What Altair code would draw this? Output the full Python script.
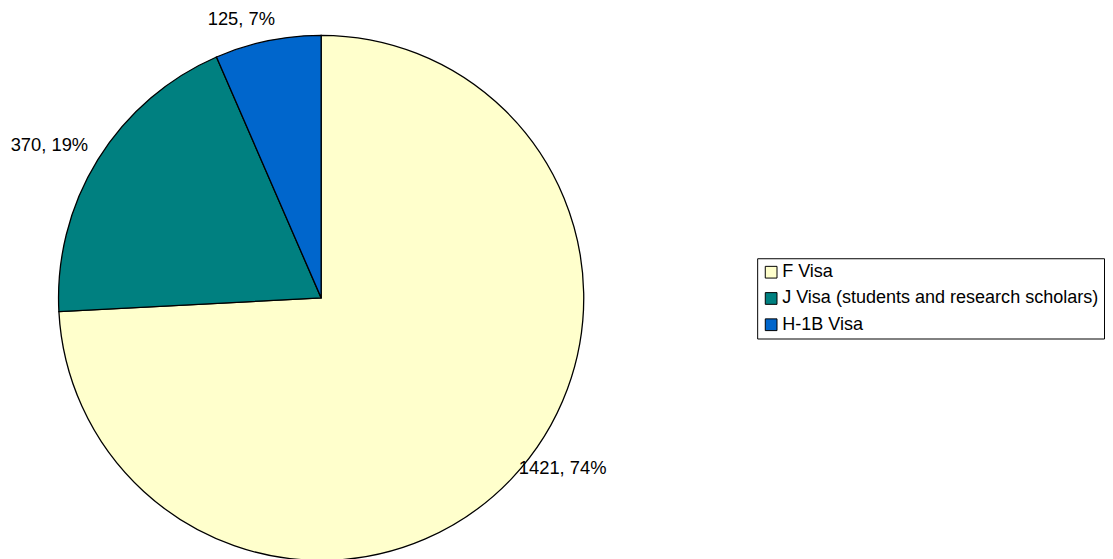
import altair as alt
import pandas as pd

visas = ["F Visa", "J Visa (students and research scholars)", "H-1B Visa"]
counts = [1421, 370, 125]
percents = ["74%", "19%", "7%"]
colors = ["#FFFFCC", "#008080", "#0066CC"]

df = pd.DataFrame({
    "visa": visas,
    "count": counts,
    "pct": percents,
    "order": list(range(len(visas))),
})
df["label"] = [f"{c}, {p}" for c, p in zip(counts, percents)]

CX, CY, R = 311, 285, 265
FONT = "Liberation Sans"
FS = 18.5

base = alt.Chart(df)

pie = base.mark_arc(stroke="black", strokeWidth=1.3).encode(
    theta=alt.Theta("count:Q", stack=True),
    color=alt.Color(
        "visa:N",
        sort=visas,
        scale=alt.Scale(domain=visas, range=colors),
        legend=alt.Legend(
            title=None,
            orient="none",
            legendX=751,
            legendY=245,
            padding=5,
            strokeColor="black",
            fillColor="white",
            symbolType="square",
            symbolSize=140,
            symbolStrokeColor="black",
            symbolStrokeWidth=1,
            labelFont=FONT,
            labelFontSize=18.2,
            labelColor="black",
            labelOffset=2,
            rowPadding=7.5,
            labelLimit=600,
        ),
    ),
    order=alt.Order("order:Q"),
    x=alt.value(CX),
    y=alt.value(CY),
    radius=alt.value(R),
)

def label_layer(name, align, radius, dx, dy):
    return (
        base.transform_window(cum="sum(count)", sort=[alt.SortField("order")])
        .transform_calculate(mid="datum.cum - datum.count / 2")
        .transform_filter(alt.datum.visa == name)
        .mark_text(align=align, baseline="middle", font=FONT, fontSize=FS,
                   color="black", dx=dx, dy=dy)
        .encode(
            theta=alt.Theta("mid:Q", stack=None),
            radius=alt.value(radius),
            x=alt.value(CX),
            y=alt.value(CY),
            text="label:N",
        )
    )

labels = [
    label_layer(visas[0], "left", 275, 0, -18),
    label_layer(visas[1], "right", 273, -3, -11),
    label_layer(visas[2], "right", 278, 10, -9),
]

chart = alt.layer(pie, *labels).properties(
    width=1097,
    height=543,
    autosize=alt.AutoSizeParams(type="none"),
).configure_view(stroke=None)

chart.save("out.html", embed_options={"renderer": "svg", "actions": False})
